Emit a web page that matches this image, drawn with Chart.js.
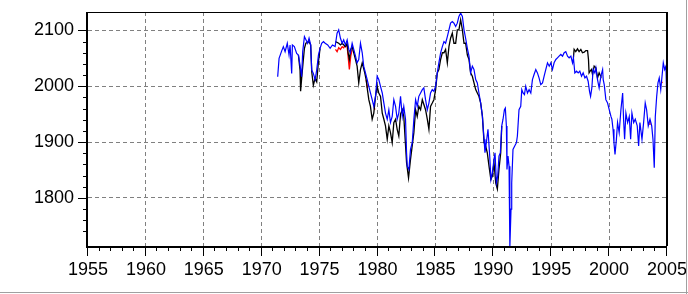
<!DOCTYPE html>
<html>
<head>
<meta charset="utf-8">
<script src="https://cdn.jsdelivr.net/npm/chart.js@4.4.0/dist/chart.umd.min.js"></script>
<style>
  html, body { margin: 0; padding: 0; background: #fff; }
  #wrap { position: relative; width: 688px; height: 294px; }
</style>
</head>
<body>
<div id="wrap"><canvas id="chart" width="688" height="294"></canvas></div>
<script>
// axis ranges
const xRange = [1955, 2005];
const yRange = [1714, 2133];

// main (blue) series: [year, value]
const blueLine = [
  [1971.38,2017],[1971.50,2050],[1971.72,2063],[1971.87,2071],[1972.02,2062],[1972.21,2077],[1972.36,2056],[1972.45,2074],
  [1972.59,2023],[1972.65,2074],[1972.82,2071],[1973.02,2059],[1973.17,2056],[1973.31,2038],[1973.45,2017],[1973.54,2062],
  [1973.69,2089],[1973.83,2083],[1973.97,2077],[1974.09,2086],[1974.23,2074],[1974.32,2029],[1974.46,2023],[1974.61,2012],
  [1974.75,2029],[1974.90,2056],[1975.04,2068],[1975.18,2077],[1975.33,2080],[1975.48,2077],[1975.70,2074],[1975.91,2068],
  [1976.11,2074],[1976.34,2071],[1976.51,2095],[1976.65,2101],[1976.80,2086],[1976.95,2077],[1977.08,2083],[1977.23,2074],
  [1977.38,2083],[1977.52,2066],[1977.66,2060],[1977.81,2077],[1977.95,2066],[1978.10,2054],[1978.24,2042],[1978.38,2048],
  [1978.53,2077],[1978.68,2060],[1978.81,2036],[1978.96,2024],[1979.11,2012],[1979.25,2000],[1979.39,1988],[1979.54,1976],
  [1979.68,1964],[1979.83,1982],[1979.97,2018],[1980.11,2012],[1980.26,2000],[1980.41,1988],[1980.55,1970],[1980.69,1952],
  [1980.84,1941],[1980.98,1958],[1981.12,1935],[1981.27,1946],[1981.41,1976],[1981.56,1964],[1981.70,1941],[1981.84,1952],
  [1981.99,1982],[1982.14,1946],[1982.27,1964],[1982.42,1941],[1982.51,1881],[1982.57,1857],[1982.71,1851],[1982.85,1887],
  [1983.00,1899],[1983.14,1941],[1983.29,1976],[1983.43,1964],[1983.57,1982],[1983.72,1988],[1983.87,1994],[1984.00,1997],
  [1984.15,1976],[1984.30,1958],[1984.44,1970],[1984.58,1988],[1984.73,1994],[1984.87,1991],[1985.02,2000],[1985.16,2024],
  [1985.30,2042],[1985.45,2060],[1985.60,2071],[1985.74,2080],[1985.88,2077],[1986.03,2089],[1986.17,2101],[1986.31,2113],
  [1986.46,2116],[1986.60,2113],[1986.75,2107],[1986.89,2113],[1987.03,2125],[1987.18,2131],[1987.33,2125],[1987.47,2101],
  [1987.61,2086],[1987.76,2068],[1987.90,2054],[1988.04,2024],[1988.19,2036],[1988.33,2030],[1988.48,2012],[1988.62,2006],
  [1988.76,1988],[1988.91,1970],[1989.06,1946],[1989.20,1905],[1989.28,1881],[1989.40,1899],[1989.54,1923],[1989.69,1875],
  [1989.80,1833],[1989.92,1845],[1990.06,1869],[1990.15,1881],[1990.27,1827],[1990.38,1839],[1990.49,1875],[1990.61,1881],
  [1990.73,1929],[1990.84,1941],[1990.96,1958],[1991.04,1961],[1991.13,1929],[1991.18,1851],[1991.27,1875],[1991.36,1857],
  [1991.42,1780],[1991.44,1712],[1991.53,1780],[1991.59,1827],[1991.70,1887],[1991.85,1893],[1992.00,1899],[1992.08,1911],
  [1992.22,1958],[1992.37,1964],[1992.46,1994],[1992.57,1988],[1992.69,1985],[1992.80,2000],[1992.95,1988],[1993.09,1994],
  [1993.24,1988],[1993.38,2012],[1993.52,2021],[1993.67,2030],[1993.81,2024],[1993.95,2015],[1994.10,2003],[1994.25,2006],
  [1994.39,2018],[1994.53,2030],[1994.68,2042],[1994.83,2036],[1994.97,2042],[1995.11,2030],[1995.25,2042],[1995.40,2048],
  [1995.54,2051],[1995.68,2054],[1995.83,2057],[1995.98,2054],[1996.12,2060],[1996.26,2062],[1996.41,2054],[1996.55,2051],
  [1996.70,2054],[1996.84,2042],[1996.92,2051],[1997.04,2024],[1997.19,2027],[1997.33,2024],[1997.47,2027],[1997.62,2018],
  [1997.76,2024],[1997.91,2015],[1998.05,2018],[1998.19,2009],[1998.31,1991],[1998.40,1982],[1998.51,1997],[1998.62,2030],
  [1998.77,2024],[1998.86,2033],[1999.00,2012],[1999.14,1997],[1999.29,2018],[1999.44,2030],[1999.49,2012],[1999.58,2003],
  [1999.72,1976],[1999.87,1970],[2000.01,1958],[2000.16,1946],[2000.24,1941],[2000.34,1923],[2000.42,1899],[2000.51,1878],
  [2000.63,1905],[2000.73,1935],[2000.87,1917],[2001.02,1958],[2001.17,1988],[2001.25,1941],[2001.34,1905],[2001.45,1952],
  [2001.60,1935],[2001.74,1946],[2001.86,1905],[2001.97,1952],[2002.12,1935],[2002.26,1941],[2002.43,1929],[2002.55,1893],
  [2002.66,1935],[2002.84,1905],[2002.98,1935],[2003.12,1970],[2003.24,1958],[2003.38,1929],[2003.53,1941],[2003.68,1929],
  [2003.79,1905],[2003.90,1854],[2003.99,1946],[2004.11,1982],[2004.22,2006],[2004.33,2015],[2004.46,1994],[2004.57,2018],
  [2004.68,2042],[2004.80,2030],[2004.91,2036],[2005.00,1958]
];

// second (black) series, only where it departs from the blue one; null = gap
const blackLine = [
  [1973.17,2056],[1973.31,2029],[1973.36,1991],[1973.45,2014],[1973.58,2044],[1973.69,2068],[1973.81,2077],[1974.09,2080],
  [1974.23,2074],[1974.32,2026],[1974.46,2002],[1974.61,2014],[1974.75,2008],[1974.90,2044],[1975.04,2068],
  [1975.5,null],
  [1976.37,2080],[1976.65,2077],[1976.80,2074],[1976.95,2077],[1977.23,2071],[1977.38,2077],[1977.46,2060],[1977.57,2048],
  [1977.69,2066],[1977.81,2071],[1978.10,2048],[1978.24,2036],[1978.38,2006],[1978.53,2030],[1978.68,2042],[1978.90,2024],
  [1979.02,2012],[1979.13,1994],[1979.25,1976],[1979.39,1964],[1979.54,1941],[1979.68,1952],[1979.83,1982],[1979.97,2000],
  [1980.11,1988],[1980.26,1982],[1980.41,1952],[1980.55,1941],[1980.69,1929],[1980.84,1905],[1980.98,1929],[1981.12,1917],
  [1981.27,1899],[1981.41,1935],[1981.56,1941],[1981.70,1923],[1981.84,1911],[1981.99,1950],[1982.14,1958],[1982.27,1946],
  [1982.51,1863],[1982.68,1836],[1982.85,1869],[1983.14,1917],[1983.29,1958],[1983.43,1946],[1983.57,1964],[1983.72,1958],
  [1983.87,1976],[1984.15,1958],[1984.30,1941],[1984.44,1923],[1984.58,1964],[1984.73,1970],[1984.87,1976],[1985.02,1994],
  [1985.16,2024],[1985.30,2030],[1985.45,2048],[1985.60,2060],[1985.74,2060],[1985.88,2066],[1986.03,2042],[1986.17,2071],
  [1986.31,2086],[1986.46,2095],[1986.60,2077],[1986.75,2077],[1986.89,2101],[1987.03,2101],[1987.18,2119],[1987.33,2101],
  [1987.47,2077],[1987.61,2077],[1987.76,2056],[1987.90,2048],[1988.04,2024],[1988.19,2018],[1988.48,1994],[1988.62,1988],
  [1988.76,1982],[1988.91,1970],[1989.06,1946],[1989.20,1899],[1989.34,1893],[1989.48,1881],[1989.63,1857],[1989.79,1833],
  [1989.92,1839],[1990.06,1863],[1990.21,1827],[1990.35,1816],[1990.49,1851],[1990.64,1881],[1990.73,1929],
  [1993.0,null],
  [1996.92,2051],[1996.98,2066],[1997.12,2062],[1997.27,2067],[1997.41,2062],[1997.56,2066],[1997.70,2060],[1997.85,2061],
  [1997.99,2064],[1998.14,2064],[1998.22,2048],[1998.27,2024],[1998.36,2027],[1998.48,2030],[1998.57,2021],[1998.71,2036],
  [1998.86,2033],[1999.00,2015],[1999.14,2024],[1999.23,2020],[1999.29,2018]
];

// third (red) series, short visible pieces only
const redLine = [
  [1976.37,2066],[1976.51,2062],[1976.65,2069],[1976.80,2066],[1976.95,2071],[1977.08,2069],[1977.23,2074],[1977.38,2071],
  [1977.46,2054],[1977.57,2030],[1977.69,2054],[1977.81,2066],
  [1978.5,null],
  [1979.02,2012],[1979.13,1997],
  [1979.4,null],
  [1979.68,1970],[1979.76,1958],
  [1985,null],
  [2003.47,1932],[2003.53,1938],
  [2004,null],
  [2004.55,2006],[2004.6,2008]
];

const majorX = 5;    // labelled x step
const majorY = 100;  // labelled y step
const minorY = 20;

const toPts = arr => arr.map(p => ({ x: p[0], y: p[1] }));

// frame, tick marks and window edge
const frameAndTicks = {
  id: 'frameAndTicks',
  afterDraw(chart) {
    const { ctx, chartArea: a, scales: { x, y } } = chart;
    ctx.save();
    ctx.strokeStyle = '#000';
    ctx.lineWidth = 1;
    ctx.beginPath();
    x.ticks.forEach(t => {
      const px = Math.round(x.getPixelForValue(t.value)) - 0.5;
      const len = t.value % majorX === 0 ? 10 : 5;
      ctx.moveTo(px, a.bottom);
      ctx.lineTo(px, a.bottom + len);
    });
    y.ticks.forEach(t => {
      if (t.value % minorY !== 0) return;
      const py = Math.round(y.getPixelForValue(t.value)) + 0.5;
      const len = t.value % majorY === 0 ? 10 : 5;
      ctx.moveTo(a.left - len, py);
      ctx.lineTo(a.left, py);
    });
    ctx.stroke();

    ctx.fillStyle = '#000';
    ctx.fillRect(a.left - 2, a.top, 2, a.height + 2);      // left axis
    ctx.fillRect(a.left - 2, a.bottom, a.width + 2, 2);    // bottom axis
    ctx.fillRect(a.left, a.top, a.width, 1);               // top
    ctx.fillRect(a.right - 1, a.top, 2, a.height);         // right

    ctx.fillStyle = '#a0a0a0';
    ctx.fillRect(686, 0, 1, 294);
    ctx.fillRect(0, 292, 688, 1);
    ctx.restore();
  }
};

// keep label overflow from shrinking the plot area
const noPad = s => { s.paddingLeft = 0; s.paddingRight = 0; s.paddingTop = 0; s.paddingBottom = 0; };

const gridColor = '#808080';

new Chart(document.getElementById('chart'), {
  type: 'line',
  data: {
    datasets: [
      { data: toPts(blueLine), borderColor: '#0000ff', borderWidth: 1.2 },
      { data: toPts(blackLine), borderColor: '#000000', borderWidth: 1.3 },
      { data: toPts(redLine), borderColor: '#ff0000', borderWidth: 1.3 }
    ]
  },
  options: {
    responsive: false,
    animation: false,
    events: [],
    layout: { padding: { left: 0, top: 12, right: 21, bottom: 0 } },
    elements: {
      point: { radius: 0 },
      line: { tension: 0, fill: false }
    },
    plugins: {
      legend: { display: false },
      tooltip: { enabled: false }
    },
    scales: {
      x: {
        type: 'linear',
        min: xRange[0],
        max: xRange[1],
        afterFit: s => { s.height = 48; noPad(s); },
        border: { display: false, dash: [4, 3] },
        grid: {
          drawTicks: false,
          lineWidth: 1,
          color: c => (c.tick && c.tick.value % majorX === 0 && c.tick.value > xRange[0] && c.tick.value < xRange[1]) ? gridColor : 'rgba(0,0,0,0)'
        },
        ticks: {
          stepSize: 1,
          autoSkip: false,
          maxRotation: 0,
          minRotation: 0,
          padding: 13,
          color: '#000',
          font: { family: 'Liberation Sans, Arial, sans-serif', size: 18 },
          callback: v => (v % majorX === 0 ? String(v) : '')
        }
      },
      y: {
        min: yRange[0],
        max: yRange[1],
        afterFit: s => { s.width = 88; noPad(s); },
        border: { display: false, dash: [4, 3] },
        grid: {
          drawTicks: false,
          lineWidth: 1,
          color: c => (c.tick && c.tick.value % majorY === 0) ? gridColor : 'rgba(0,0,0,0)'
        },
        ticks: {
          stepSize: minorY,
          autoSkip: false,
          padding: 14,
          color: '#000',
          font: { family: 'Liberation Sans, Arial, sans-serif', size: 18 },
          callback: v => (v % majorY === 0 ? String(v) : '')
        }
      }
    }
  },
  plugins: [frameAndTicks]
});
</script>
</body>
</html>
